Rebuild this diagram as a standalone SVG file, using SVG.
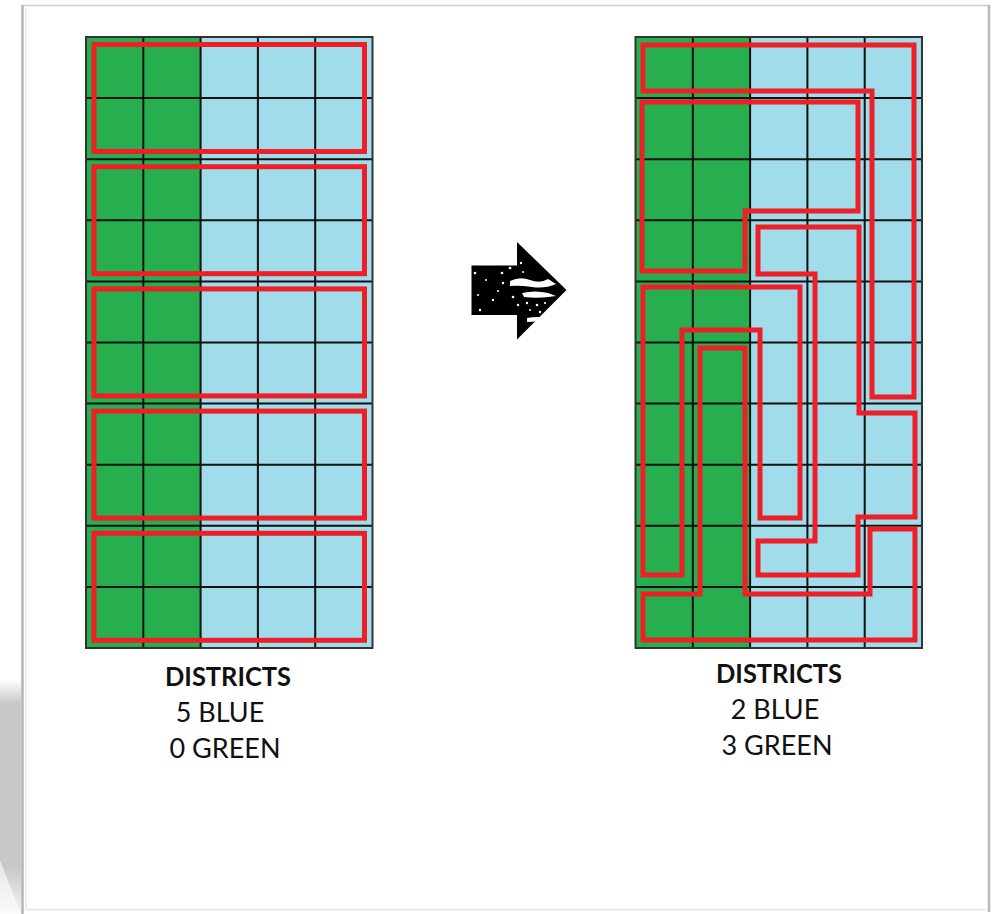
<svg xmlns="http://www.w3.org/2000/svg" width="997" height="914" viewBox="0 0 997 914">
  <style>
    .green { fill: #27ae4f; }
    .blue { fill: #a0dcea; }
    .gl { fill: none; stroke: #111; stroke-width: 2; }
    .frame { fill: none; stroke: #333; stroke-width: 2; }
    .dist { fill: none; stroke: #ee1f26; stroke-width: 5; stroke-linejoin: miter; }
    .title { font-family: Lato, "Open Sans", sans-serif; font-weight: bold; font-size: 27px; fill: #111; text-anchor: middle; }
    .line { font-family: Lato, "Open Sans", sans-serif; font-size: 27px; fill: #111; text-anchor: middle; }
    .speck { fill: #fff; }
  </style>
  <defs>
    <linearGradient id="shadowV" x1="0" y1="0" x2="0" y2="1">
      <stop offset="0" stop-color="#c8c8c8" stop-opacity="0"/>
      <stop offset="0.1" stop-color="#c8c8c8" stop-opacity="1"/>
      <stop offset="0.8" stop-color="#c8c8c8" stop-opacity="1"/>
      <stop offset="1" stop-color="#c8c8c8" stop-opacity="0.2"/>
    </linearGradient>
    <g id="grid">
      <rect class="green" x="0" y="0" width="114.6" height="611"/>
      <rect class="blue" x="114.6" y="0" width="171.9" height="611"/>
      <path class="gl" d="M57.3 0V611M114.6 0V611M171.9 0V611M229.2 0V611
        M0 61.1H286.5M0 122.2H286.5M0 183.3H286.5M0 244.4H286.5M0 305.5H286.5
        M0 366.6H286.5M0 427.7H286.5M0 488.8H286.5M0 549.9H286.5"/>
      <rect class="frame" x="0" y="0" width="286.5" height="611"/>
    </g>
  </defs>

  <!-- page -->
  <g id="page">
    <rect x="0" y="0" width="997" height="914" fill="#fff"/>
    <rect x="0" y="680" width="21" height="234" fill="url(#shadowV)"/>
    <path d="M0 860 L0 914 L21 914 Z" fill="#fff" opacity="0.6"/>
    <line x1="22" y1="5.5" x2="990" y2="5.5" stroke="#cfcfcf" stroke-width="1.5"/>
    <line x1="22.5" y1="5" x2="22.5" y2="914" stroke="#b4b4b4" stroke-width="2.5"/>
    <line x1="26" y1="8" x2="26" y2="910" stroke="#ececec" stroke-width="2"/>
    <line x1="989" y1="5" x2="989" y2="912" stroke="#b8b8b8" stroke-width="2.5"/>
    <line x1="26" y1="909.5" x2="986" y2="909.5" stroke="#e4e4e4" stroke-width="1.5"/>
  </g>

  <!-- left panel -->
  <g id="left-grid">
    <use href="#grid" x="86" y="37"/>
  </g>
  <g id="left-districts">
    <rect id="ld1" class="dist" x="94" y="44.5" width="270.5" height="107"/>
    <rect id="ld2" class="dist" x="94" y="166.7" width="270.5" height="107"/>
    <rect id="ld3" class="dist" x="94" y="288.9" width="270.5" height="107"/>
    <rect id="ld4" class="dist" x="94" y="411.1" width="270.5" height="107"/>
    <rect id="ld5" class="dist" x="94" y="533.3" width="270.5" height="107"/>
  </g>
  <g id="left-label">
    <text class="title" x="228" y="686" textLength="126" lengthAdjust="spacingAndGlyphs">DISTRICTS</text>
    <text class="line" x="220" y="722">5 BLUE</text>
    <text class="line" x="225" y="758">0 GREEN</text>
  </g>

  <!-- right panel -->
  <g id="right-grid">
    <use href="#grid" x="635.5" y="37"/>
  </g>
  <g id="right-districts">
    <path id="rdA" class="dist" d="M643 45H914V397H872V91H643Z"/>
    <path id="rdB" class="dist" d="M642 102H858V211H745V271H642Z"/>
    <path id="rdC" class="dist" d="M758 227H859V413H915V517H858V575H758V541H815V274H758Z"/>
    <path id="rdD" class="dist" d="M643 287H800V518H760V330H682V575H643Z"/>
    <path id="rdF" class="dist" d="M700 348H745V594H870V529H915V640H643V594H700Z"/>
  </g>
  <g id="right-label">
    <text class="title" x="779" y="683" textLength="126" lengthAdjust="spacingAndGlyphs">DISTRICTS</text>
    <text class="line" x="775" y="719">2 BLUE</text>
    <text class="line" x="777" y="755">3 GREEN</text>
  </g>

  <!-- arrow between panels -->
  <g id="connectors">
    <g id="arrow">
      <path d="M471.5 265.5H517V242L566.5 290L517 339.5V315H471.5Z" fill="#000"/>
      <path class="speck" d="M510 281 Q520 276 530 280 T548 279 L556 284 Q545 289 532 287 T510 286Z"/>
      <path class="speck" d="M522 293 Q535 290 548 293 L556 296 Q540 299 524 297Z"/>
      <path class="speck" d="M527 318 Q537 316 547 318 L546 322 Q536 321 527 322Z"/>
      <circle class="speck" cx="475" cy="273" r="1.3"/>
      <circle class="speck" cx="480" cy="310" r="1.2"/>
      <circle class="speck" cx="493" cy="300" r="1.2"/>
      <circle class="speck" cx="502" cy="273" r="1.3"/>
      <circle class="speck" cx="503" cy="283" r="1.2"/>
      <circle class="speck" cx="513" cy="297" r="1.3"/>
      <circle class="speck" cx="527" cy="303" r="1.2"/>
      <circle class="speck" cx="537" cy="305" r="1.3"/>
      <circle class="speck" cx="540" cy="312" r="1.2"/>
      <circle class="speck" cx="518" cy="305" r="1.2"/>
      <circle class="speck" cx="510" cy="268" r="1.3"/>
      <circle class="speck" cx="486" cy="280" r="1"/>
      <circle class="speck" cx="521" cy="263" r="1.2"/>
      <circle class="speck" cx="530" cy="310" r="1"/>
      <circle class="speck" cx="545" cy="303" r="1.1"/>
      <circle class="speck" cx="498" cy="291" r="1"/>
      <circle class="speck" cx="478" cy="295" r="1"/>
      <circle class="speck" cx="523" cy="272" r="1"/>
    </g>
  </g>
</svg>
